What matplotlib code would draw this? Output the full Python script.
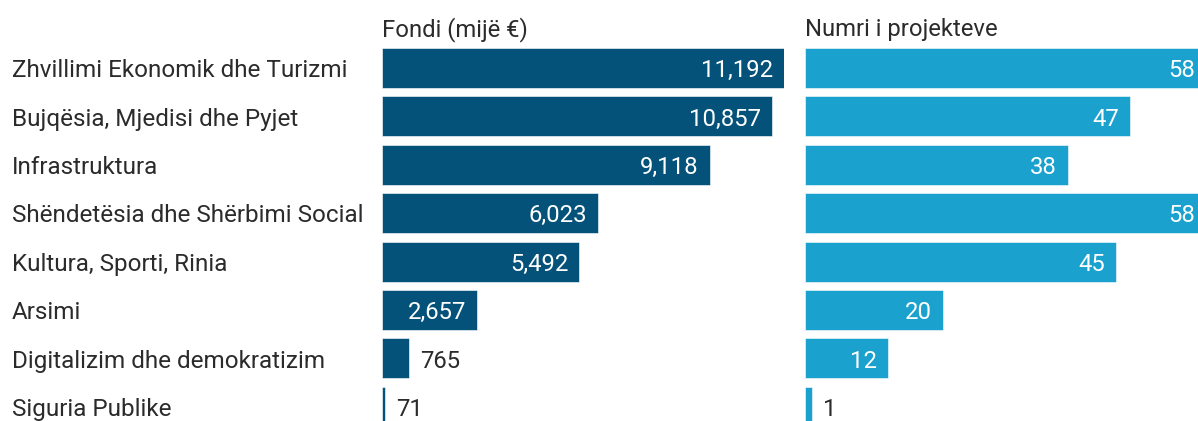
import matplotlib
matplotlib.use("Agg")
import matplotlib.pyplot as plt
import matplotlib.transforms as mtransforms

plt.rcParams['font.family'] = ['Roboto', 'DejaVu Sans']

categories = [
    "Zhvillimi Ekonomik dhe Turizmi",
    "Bujqësia, Mjedisi dhe Pyjet",
    "Infrastruktura",
    "Shëndetësia dhe Shërbimi Social",
    "Kultura, Sporti, Rinia",
    "Arsimi",
    "Digitalizim dhe demokratizim",
    "Siguria Publike",
]
fondi = [11192, 10857, 9118, 6023, 5492, 2657, 765, 71]
projektet = [58, 47, 38, 58, 45, 20, 12, 1]
titles = ["Fondi (mijë €)", "Numri i projekteve"]

W, H = 1198, 421
fig = plt.figure(figsize=(W / 100, H / 100), dpi=100)

row0, step = 68, 48.4
ylim = ((H - row0) / step, -row0 / step)
text_col = "#2b2b2b"
fs = 17.2
# baseline sits this many points below the row centre
base = 6.6


def panel(left_px, width_px, values, xmax, color, title, fmt):
    ax = fig.add_axes([left_px / W, 0, width_px / W, 1])
    ypos = list(range(len(values)))
    ax.barh(ypos, values, height=0.83, color=color, edgecolor="#ffffff",
            linewidth=0.4)
    ax.set_xlim(0, xmax)
    ax.set_ylim(*ylim)
    ax.axis("off")
    for y, v in zip(ypos, values):
        bar_px = v / xmax * width_px
        if bar_px > 60:
            ax.annotate(fmt(v), (v, y), xytext=(-8, -base), textcoords="offset points",
                        ha="right", va="baseline", color="white", fontsize=fs)
        else:
            ax.annotate(fmt(v), (v, y), xytext=(8, -base), textcoords="offset points",
                        ha="left", va="baseline", color=text_col, fontsize=fs)
    ax.annotate(title, (0, -0.85), xycoords=("axes fraction", "data"),
                xytext=(0, -base), textcoords="offset points",
                ha="left", va="baseline", color=text_col, fontsize=fs)
    return ax


ax1 = panel(382, 402, fondi, fondi[0], "#04527a", titles[0], lambda v: f"{v:,}")
ax2 = panel(805, 401, projektet, 58, "#1ba1cd", titles[1], lambda v: f"{v}")

for i, c in enumerate(categories):
    ax1.annotate(c, (12 / W, i), xycoords=("figure fraction", "data"),
                 xytext=(0, -base), textcoords="offset points",
                 ha="left", va="baseline", color=text_col, fontsize=17.5,
                 annotation_clip=False)

fig.savefig("out.png", dpi=100)
